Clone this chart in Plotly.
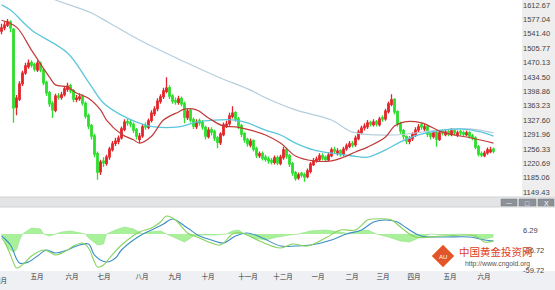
import plotly.graph_objects as go

# ---------------- data ----------------
idx = list(range(165))
open_ = [1548,1556,1563,1571,1552,1360,1380,1418,1445,1460,
         1470,1465,1452,1468,1452,1421,1396,1369,1352,1388,
         1384,1391,1404,1413,1401,1379,1381,1386,1369,1339,
         1314,1289,1245,1200,1226,1221,1237,1255,1270,1275,
         1284,1305,1324,1322,1317,1304,1280,1289,1314,1310,
         1327,1344,1356,1374,1386,1399,1408,1388,1376,1372,
         1381,1369,1334,1352,1329,1312,1326,1322,1310,1287,
         1304,1299,1284,1272,1292,1314,1319,1337,1346,1331,
         1314,1294,1280,1266,1277,1257,1240,1245,1236,1232,
         1228,1223,1235,1221,1235,1255,1240,1220,1198,1185,
         1196,1193,1188,1201,1218,1228,1230,1240,1236,1230,
         1240,1255,1246,1252,1243,1257,1263,1270,1267,1282,
         1297,1309,1312,1322,1317,1324,1317,1334,1331,1349,
         1367,1379,1349,1319,1302,1287,1275,1282,1292,1304,
         1316,1306,1312,1294,1287,1297,1280,1300,1292,1299,
         1292,1302,1291,1299,1297,1292,1297,1289,1284,1262,
         1245,1240,1247,1250,1256]
high = [1566,1572,1578,1575,1556,1390,1424,1450,1470,1478,
        1476,1470,1475,1473,1456,1425,1400,1375,1393,1395,
        1398,1412,1420,1418,1405,1390,1394,1392,1374,1344,
        1318,1294,1250,1230,1236,1242,1262,1276,1284,1290,
        1312,1330,1332,1328,1322,1308,1296,1318,1322,1332,
        1352,1362,1382,1392,1408,1434,1414,1392,1384,1388,
        1386,1374,1356,1356,1334,1330,1332,1328,1314,1310,
        1310,1304,1288,1298,1322,1326,1346,1362,1350,1336,
        1318,1298,1284,1282,1280,1262,1250,1250,1242,1238,
        1234,1240,1240,1242,1262,1260,1244,1224,1202,1198,
        1200,1198,1208,1224,1234,1238,1246,1246,1240,1248,
        1260,1262,1258,1256,1262,1270,1276,1276,1290,1304,
        1314,1320,1328,1326,1330,1328,1336,1340,1356,1374,
        1392,1382,1352,1324,1306,1290,1288,1298,1310,1318,
        1322,1318,1316,1298,1302,1300,1302,1306,1304,1304,
        1308,1306,1302,1304,1302,1302,1300,1294,1288,1266,
        1250,1252,1260,1262,1260]
low = [1540,1550,1558,1545,1321,1340,1375,1412,1440,1455,
       1458,1448,1447,1446,1414,1388,1360,1333,1347,1378,
       1378,1386,1398,1394,1372,1372,1376,1364,1332,1306,
       1280,1236,1180,1192,1212,1215,1230,1250,1264,1268,
       1280,1300,1314,1310,1296,1280,1272,1284,1304,1305,
       1322,1338,1350,1368,1380,1394,1380,1368,1366,1366,
       1362,1320,1328,1322,1306,1306,1314,1304,1280,1282,
       1290,1276,1258,1266,1288,1308,1314,1332,1324,1306,
       1286,1272,1262,1260,1250,1234,1234,1228,1225,1220,
       1218,1218,1216,1216,1230,1232,1212,1190,1178,1180,
       1186,1175,1184,1196,1214,1222,1226,1228,1224,1226,
       1236,1244,1240,1238,1238,1252,1258,1260,1262,1278,
       1292,1302,1306,1312,1312,1312,1312,1324,1326,1344,
       1362,1342,1312,1294,1280,1268,1268,1276,1286,1298,
       1304,1300,1286,1280,1282,1262,1276,1290,1288,1288,
       1288,1290,1286,1290,1288,1288,1282,1278,1256,1238,
       1236,1236,1242,1246,1246]
close = [1556,1563,1571,1556,1358,1382,1417,1444,1462,1469,
         1464,1454,1469,1452,1420,1395,1368,1353,1387,1385,
         1390,1405,1412,1400,1380,1382,1385,1370,1338,1313,
         1288,1244,1199,1224,1222,1236,1256,1269,1276,1283,
         1306,1323,1321,1318,1303,1288,1288,1311,1311,1326,
         1345,1355,1375,1385,1400,1407,1387,1375,1373,1380,
         1368,1335,1350,1328,1313,1323,1321,1311,1288,1303,
         1298,1283,1273,1293,1316,1318,1338,1345,1330,1313,
         1293,1279,1269,1276,1256,1241,1244,1234,1231,1227,
         1224,1234,1222,1236,1254,1239,1219,1197,1184,1192,
         1192,1187,1202,1219,1227,1231,1239,1234,1231,1241,
         1254,1251,1251,1244,1256,1264,1269,1266,1283,1298,
         1308,1313,1321,1318,1323,1318,1330,1330,1350,1368,
         1378,1348,1318,1301,1288,1276,1281,1293,1303,1311,
         1311,1311,1293,1288,1296,1281,1296,1296,1298,1293,
         1301,1296,1296,1296,1293,1296,1288,1283,1261,1244,
         1241,1246,1254,1254,1251]

# moving-average lines
ma_red_x = [0,5,10,16,18,22,25,29,33,35,40,44,46,50,54,59,61,65,69,74,78,83,88,93,98,104,110,114,118,122,128,131,134,140,147,157,164]
ma_red_v = [1575,1558,1501,1434,1415,1410,1395,1382,1353,1328,1293,1279,1271,1288,1328,1348,1355,1353,1333,1313,1311,1303,1291,1271,1239,1227,1227,1236,1249,1261,1286,1313,1323,1321,1298,1283,1271]
ma_cyan_x = [0,3,10,22,29,34,40,45,51,59,65,71,78,82,88,93,98,104,110,117,122,128,133,139,147,153,160,164]
ma_cyan_v = [1613,1600,1551,1494,1422,1370,1340,1323,1311,1311,1323,1328,1328,1321,1303,1291,1271,1254,1246,1239,1236,1254,1274,1291,1303,1306,1298,1288]
ma_long_x = [0,18,30,36,46,61,72,83,88,98,110,117,131,146,156,164]
ma_long_v = [1675,1625,1593,1568,1526,1472,1435,1402,1383,1353,1328,1298,1291,1303,1306,1296]

# MACD
dif_x = [0,1,3,5,6,8,10,14,16,18,22,24,27,29,31,32,34,36,40,46,50,53,55,58,62,66,69,73,77,80,86,93,97,102,108,113,118,122,124,130,133,138,147,158,161,164]
dif_v = [-6.6,-13.2,-34.7,-56,-54.5,-46.2,-36.3,-26.4,-29.7,-34.7,-26.4,-19.8,-14.9,-23.1,-46.2,-54.5,-51.2,-39.6,-18.2,3.3,9.9,19.8,29.7,23.1,1.7,-6.6,-13.2,-18.2,0,1.7,-11.6,-23.1,-16.5,-19.8,-6.6,6.6,6.6,23.1,24.8,23.1,11.6,-5.0,-3.3,-3.3,-13.2,-11.6]
dea_x = [0,3,6,9,12,15,18,22,25,29,31,35,38,40,46,50,54,57,62,66,70,74,78,82,87,93,98,103,110,115,120,124,128,132,135,140,147,156,161,164]
dea_v = [-3.3,-18.2,-47.9,-46.2,-36.3,-26.4,-31.4,-26.4,-19.8,-16.5,-34.7,-46.2,-39.6,-26.4,-3.3,6.6,16.5,24.8,9.9,-3.3,-9.9,-14.9,-3.3,1.7,-6.6,-19.8,-19.8,-18.2,-9.9,0,6.6,19.8,23.1,19.8,9.9,-3.3,-5.0,-5.0,-9.9,-11.6]
hist_x = [0,1,2,4,5,6,7,9,10,13,14,16,18,20,23,25,28,29,32,34,35,38,41,44,47,49,53,55,58,61,64,66,71,75,77,79,81,84,88,92,96,99,103,108,113,116,119,122,125,129,133,136,139,143,148,153,156,159,161,164]
hist_v = [0,-9.9,-23,-29.7,-26.4,-9.9,0,6.6,9.9,8.3,0,-3.3,0,3.3,5,3.3,0,-6.6,-18.2,-16.5,0,6.6,11.6,8.3,0,3.3,5,0,-6.6,-13.2,-3.3,-1.7,-1.7,0,5,6.6,0,-6.6,-9.9,-5,-1.7,0,5,6.6,3.3,0,5,6.6,0,-5,-11.6,-13.2,-6.6,0,-1.7,0,-1.7,-6.6,-8.3,-5]

price_ticks = [1612.67,1577.04,1541.40,1505.77,1470.13,1434.50,1398.86,1363.23,1327.60,1291.96,1256.33,1220.69,1185.06,1149.43]
macd_ticks = [6.29,-26.72,-59.72]
month_pos = [11.8,23.5,34.2,46.8,57.8,68.8,82.2,93.8,105.5,116.8,127.2,137.5,149.5,160.8]
month_lbl = ["五月","六月","七月","八月","九月","十月","十一月","十二月","一月","二月","三月","四月","五月","六月"]

# ---------------- figure ----------------
W, H = 555, 290
ML, MR, MT, MB = 0, 33, 0, 19
PW, PH = W - ML - MR, H - MT - MB

def px(x):
    return (x - ML) / PW

def py(y):
    return (H - MB - y) / PH

fig = go.Figure()

fig.add_trace(go.Scatter(x=hist_x, y=hist_v, mode="lines", fill="tozeroy",
                         line=dict(color="#8fe07f", width=0.6), fillcolor="rgba(140,235,120,0.75)",
                         xaxis="x2", yaxis="y2", hoverinfo="skip"))
fig.add_trace(go.Scatter(x=dea_x, y=dea_v, mode="lines", line=dict(color="#3b8ec4", width=1.1, shape="spline"),
                         xaxis="x2", yaxis="y2"))
fig.add_trace(go.Scatter(x=dif_x, y=dif_v, mode="lines", line=dict(color="#86d35c", width=1.1, shape="spline"),
                         xaxis="x2", yaxis="y2"))

fig.add_trace(go.Scatter(x=ma_long_x, y=ma_long_v, mode="lines", line=dict(color="#b4cedd", width=1.2, shape="spline"),
                         xaxis="x", yaxis="y"))
fig.add_trace(go.Candlestick(x=idx, open=open_, high=high, low=low, close=close,
                             increasing=dict(line=dict(color="#e3262b", width=1.3), fillcolor="#e3262b"),
                             decreasing=dict(line=dict(color="#2ede2e", width=1.3), fillcolor="#2ede2e"),
                             whiskerwidth=0, xaxis="x", yaxis="y"))
fig.add_trace(go.Scatter(x=ma_cyan_x, y=ma_cyan_v, mode="lines", line=dict(color="#5cc6dc", width=1.3, shape="spline"),
                         xaxis="x", yaxis="y"))
fig.add_trace(go.Scatter(x=ma_red_x, y=ma_red_v, mode="lines", line=dict(color="#c23a3a", width=1.2, shape="spline"),
                         xaxis="x", yaxis="y"))

tickfont = dict(family="Liberation Sans, Arial, sans-serif", size=7.5, color="#444")
fig.update_layout(
    width=W, height=H, margin=dict(l=ML, r=MR, t=MT, b=MB),
    paper_bgcolor="white", plot_bgcolor="rgba(0,0,0,0)", showlegend=False,
    xaxis=dict(domain=[0, 1], range=[-0.5, 173.5], anchor="y", showticklabels=False, showgrid=False,
               zeroline=False, showline=False, ticks="", rangeslider=dict(visible=False), fixedrange=True),
    yaxis=dict(domain=[py(195), 1], range=[1142.5, 1625.0], side="right", tickvals=price_ticks,
               ticktext=["%.2f" % v for v in price_ticks], showgrid=False, zeroline=False, showline=False,
               ticks="", tickfont=tickfont, fixedrange=True),
    xaxis2=dict(domain=[0, 1], range=[-0.5, 173.5], anchor="y2", tickvals=month_pos, ticktext=month_lbl,
                showgrid=False, zeroline=False, showline=False, ticks="",
                tickfont=dict(family="Noto Sans CJK SC", size=6.5, color="#333"), fixedrange=True),
    yaxis2=dict(domain=[0, py(207)], range=[-61.05, 44.55], side="right", tickvals=macd_ticks,
                ticktext=["%.2f" % v for v in macd_ticks], showgrid=False, zeroline=False, showline=False,
                ticks="", tickfont=tickfont, fixedrange=True),
)

shapes = [
    # right axis strip
    dict(type="rect", xref="paper", yref="paper", x0=px(522), x1=px(556), y0=py(196), y1=py(-1),
         fillcolor="#eeeeee", line=dict(width=0), layer="below"),
    # toolbar
    dict(type="rect", xref="paper", yref="paper", x0=px(-1), x1=px(556), y0=py(207), y1=py(197),
         fillcolor="#e3e4e6", line=dict(color="#d2d3d5", width=1), layer="below"),
    # bottom band
    dict(type="rect", xref="paper", yref="paper", x0=px(-1), x1=px(556), y0=py(291), y1=py(271),
         fillcolor="#eef0f3", line=dict(width=0), layer="below"),
]
for bx0, bx1 in [(501, 517), (519, 536), (538, 554)]:
    shapes.append(dict(type="rect", xref="paper", yref="paper", x0=px(bx0), x1=px(bx1), y0=py(206), y1=py(199),
                       fillcolor="#8c9097", line=dict(color="#7a7e85", width=0.5), layer="above"))
# logo diamond
cx, cy, r = 443, 256, 11
shapes.append(dict(type="path", xref="paper", yref="paper",
                   path="M %f %f L %f %f L %f %f L %f %f Z" % (px(cx), py(cy - r), px(cx + r), py(cy),
                                                               px(cx), py(cy + r), px(cx - r), py(cy)),
                   fillcolor="#e2542a", line=dict(color="#f08a5a", width=1), layer="above"))
fig.update_layout(shapes=shapes)

ann = [
    dict(x=px(509), y=py(203), text="—", font=dict(size=6, color="white")),
    dict(x=px(527.5), y=py(203), text="□", font=dict(size=7, color="white")),
    dict(x=px(546), y=py(203), text="X", font=dict(size=7, color="white", family="Liberation Sans")),
    dict(x=px(443), y=py(257), text="AU", font=dict(size=6, color="white", family="Liberation Sans")),
    dict(x=px(496), y=py(251.5), text="中国黄金投资网", font=dict(size=10.5, color="#e03c1a", family="Noto Sans CJK SC")),
    dict(x=px(497), y=py(264), text="http://www.cngold.org", font=dict(size=6.8, color="#555", family="Liberation Sans")),
    dict(x=px(0), y=py(280), text="四月", font=dict(size=6.5, color="#333", family="Noto Sans CJK SC")),
]
for a in ann:
    a.update(xref="paper", yref="paper", showarrow=False, xanchor="center", yanchor="middle")
fig.update_layout(annotations=ann)

fig.write_html("out.html")
